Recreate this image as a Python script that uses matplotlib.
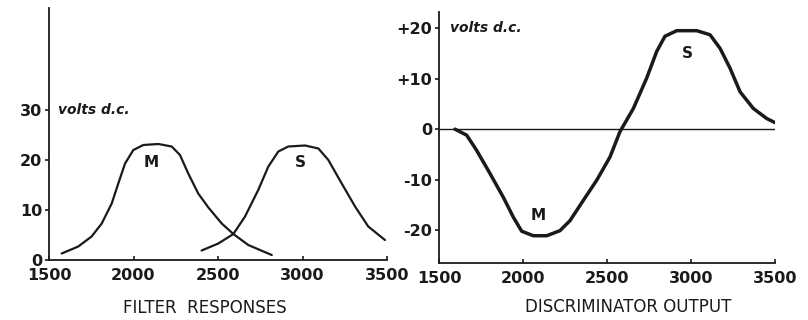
import matplotlib
matplotlib.use("Agg")
import matplotlib.pyplot as plt

# filter responses (left)
m_freq = [1575, 1673, 1752, 1812, 1871, 1910, 1950, 1999, 2058, 2147, 2226, 2275, 2324,
          2383, 2443, 2522, 2591, 2679, 2818]
m_volts = [1.3, 2.7, 4.7, 7.3, 11.3, 15.3, 19.3, 22.0, 23.0, 23.2, 22.7, 21.0, 17.3,
           13.3, 10.5, 7.3, 5.2, 3.0, 1.0]
s_freq = [2403, 2502, 2591, 2660, 2738, 2798, 2857, 2916, 3015, 3094, 3153, 3232, 3311, 3389, 3488]
s_volts = [1.9, 3.3, 5.2, 8.7, 14.0, 18.7, 21.7, 22.7, 22.9, 22.3, 20.0, 15.3, 10.7, 6.7, 4.0]

# discriminator output (right)
d_freq = [1595, 1665, 1724, 1804, 1883, 1942, 1992, 2061, 2141, 2220, 2280, 2359, 2439, 2518,
          2577, 2657, 2736, 2796, 2845, 2915, 3034, 3113, 3173, 3232, 3292, 3371, 3451, 3500]
d_volts = [0.0, -1.2, -4.2, -8.8, -13.5, -17.4, -20.2, -21.1, -21.1, -20.1, -18.1, -14.1, -10.1, -5.5,
           -0.5, 4.1, 10.1, 15.4, 18.4, 19.5, 19.5, 18.7, 16.0, 12.1, 7.4, 4.1, 2.1, 1.3]

left_yticks = [0, 10, 20, 30]
left_ylabels = ["0", "10", "20", "30"]
right_yticks = [-20, -10, 0, 10, 20]
right_ylabels = ["-20", "-10", "0", "+10", "+20"]
xticks = [1500, 2000, 2500, 3000, 3500]

fig = plt.figure(figsize=(8.08, 3.2), dpi=100)
ax1 = fig.add_axes([49 / 808, 60 / 320, 338 / 808, 252 / 320])
ax2 = fig.add_axes([439 / 808, 57 / 320, 336 / 808, 251 / 320])

ink = "#1a1a1a"
tick_font = dict(fontsize=11.5, fontweight="bold", color=ink)
mark_font = dict(fontsize=11, fontweight="bold", color=ink, ha="center", va="center")
unit_font = dict(fontsize=10, fontstyle="italic", fontweight="bold", color=ink, ha="left", va="center")


def style(ax):
    for side in ["top", "right"]:
        ax.spines[side].set_visible(False)
    for side in ["left", "bottom"]:
        ax.spines[side].set_linewidth(1.3)
        ax.spines[side].set_color(ink)
    ax.tick_params(axis="y", direction="out", length=3, width=1.2, pad=2, colors=ink)
    ax.tick_params(axis="x", direction="in", length=3, width=1.2, pad=6, colors=ink)
    ax.set_xticks(xticks)
    ax.set_xticklabels([str(t) for t in xticks], **tick_font)


line_kw = dict(color=ink, solid_joinstyle="round", solid_capstyle="round")

ax1.plot(m_freq, m_volts, lw=1.6, **line_kw)
ax1.plot(s_freq, s_volts, lw=1.6, **line_kw)
ax1.set_xlim(1500, 3500)
ax1.set_ylim(0, 50.4)
style(ax1)
ax1.set_yticks(left_yticks)
ax1.set_yticklabels(left_ylabels, **tick_font)
ax1.text(2105, 19.5, "M", **mark_font)
ax1.text(2985, 19.5, "S", **mark_font)
ax1.text(1555, 30, "volts d.c.", **unit_font)
ax1.set_xlabel("FILTER  RESPONSES", fontsize=12, color=ink)
ax1.xaxis.set_label_coords(0.46, -0.155)

ax2.axhline(0, color=ink, lw=1.0)
ax2.plot(d_freq, d_volts, lw=2.5, **line_kw)
ax2.set_xlim(1500, 3500)
ax2.set_ylim(-26.5, 23.2)
style(ax2)
ax2.set_yticks(right_yticks)
ax2.set_yticklabels(right_ylabels, **tick_font)
ax2.text(2089, -17, "M", **mark_font)
ax2.text(2976, 15, "S", **mark_font)
ax2.text(1565, 20, "volts d.c.", **unit_font)
ax2.set_xlabel("DISCRIMINATOR OUTPUT", fontsize=12, color=ink)
ax2.xaxis.set_label_coords(0.5625, -0.14)

fig.savefig("out.png", dpi=100)
